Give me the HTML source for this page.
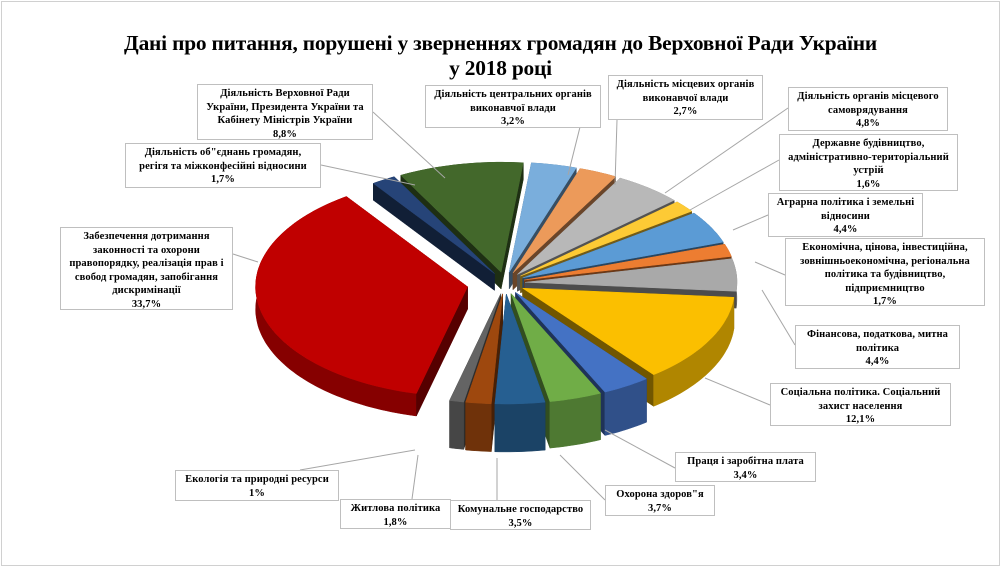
<!DOCTYPE html>
<html><head><meta charset="utf-8"><style>
html,body{margin:0;padding:0;background:#fff;}
#w{position:relative;width:1001px;height:567px;overflow:hidden;font-family:"Liberation Serif","DejaVu Serif",serif;}
.frame{position:absolute;left:1px;top:1px;width:997px;height:563px;border:1px solid #d0d0d0;}
.t{position:absolute;left:0;width:1001px;text-align:center;font-weight:bold;font-size:21.4px;color:#000;letter-spacing:-0.2px;}
.b{position:absolute;border:1px solid #bfbfbf;background:#fff;font-weight:bold;font-size:10.5px;line-height:13.5px;text-align:center;color:#000;box-sizing:border-box;padding-top:2px;white-space:nowrap;letter-spacing:0.1px;}
svg{position:absolute;left:0;top:0;}
</style></head><body><div id="w">
<div class="frame"></div>
<svg id="s" width="1001" height="567"></svg>
<div class="t" style="top:31px">Дані про питання, порушені у зверненнях громадян до Верховної Ради України</div>
<div class="t" style="top:56px">у 2018 році</div>

<div class="b" style="left:197px;top:84px;width:176px;height:56px">Діяльність Верховної Ради<br>України, Президента України та<br>Кабінету Міністрів України<br>8,8%</div>
<div class="b" style="left:125px;top:143px;width:196px;height:45px">Діяльність об"єднань громадян,<br>регігя та міжконфесійні відносини<br>1,7%</div>
<div class="b" style="left:60px;top:227px;width:173px;height:83px">Забезпечення дотримання<br>законності та охорони<br>правопорядку, реалізація прав і<br>свобод громадян, запобігання<br>дискримінації<br>33,7%</div>
<div class="b" style="left:425px;top:85px;width:176px;height:43px">Діяльність центральних органів<br>виконавчої влади<br>3,2%</div>
<div class="b" style="left:608px;top:75px;width:155px;height:45px">Діяльність місцевих органів<br>виконавчої влади<br>2,7%</div>
<div class="b" style="left:788px;top:87px;width:160px;height:44px">Діяльність органів місцевого<br>самоврядування<br>4,8%</div>
<div class="b" style="left:779px;top:134px;width:179px;height:57px">Державне будівництво,<br>адміністративно-територіальний<br>устрій<br>1,6%</div>
<div class="b" style="left:768px;top:193px;width:155px;height:44px">Аграрна політика і земельні<br>відносини<br>4,4%</div>
<div class="b" style="left:785px;top:238px;width:200px;height:68px">Економічна, цінова, інвестиційна,<br>зовнішньоекономічна, регіональна<br>політика та будівництво,<br>підприємництво<br>1,7%</div>
<div class="b" style="left:795px;top:325px;width:165px;height:44px">Фінансова, податкова, митна<br>політика<br>4,4%</div>
<div class="b" style="left:770px;top:383px;width:181px;height:43px">Соціальна політика. Соціальний<br>захист населення<br>12,1%</div>
<div class="b" style="left:675px;top:452px;width:141px;height:30px">Праця і заробітна плата<br>3,4%</div>
<div class="b" style="left:605px;top:485px;width:110px;height:31px">Охорона здоров"я<br>3,7%</div>
<div class="b" style="left:450px;top:500px;width:141px;height:30px">Комунальне господарство<br>3,5%</div>
<div class="b" style="left:340px;top:499px;width:111px;height:30px">Житлова політика<br>1,8%</div>
<div class="b" style="left:175px;top:470px;width:164px;height:31px">Екологія та природні ресурси<br>1%</div>

<script>
(function(){
var S=document.getElementById('s');var NS='http://www.w3.org/2000/svg';
function el(t,a){var e=document.createElementNS(NS,t);for(var k in a)e.setAttribute(k,a[k]);S.appendChild(e);return e;}
var L=[[373,112,445,178],[321,165,415,185],[233,254,258,262],[580,127,568,175],[617,120,615,185],[788,108,665,193],[779,160,690,210],[768,215,733,230],[785,275,755,262],[795,345,762,290],[770,405,705,378],[675,468,605,430],[605,500,560,455],[497,500,497,458],[412,499,418,455],[300,470,415,450]];
var data=[[3.2,'#7aaedc'],[2.7,'#ec9a5a'],[4.8,'#b8b8b8'],[1.6,'#fdca35'],[4.4,'#5b9bd5'],[1.7,'#ed7d31'],[4.4,'#a9a9a9'],[12.1,'#fbbf00'],[3.4,'#4472c4'],[3.7,'#70ad47'],[3.5,'#265f91'],[1.8,'#9e480e'],[1.0,'#646464'],[33.7,'#c00000'],[1.7,'#264478'],[8.8,'#43682b']];
var tot=0;data.forEach(function(d){tot+=d[0];});
var cx=505,cy=283,rx=212,ry=110,dep=48,off=6*Math.PI/180;
function dk(c,f){var r=parseInt(c.substr(1,2),16),g=parseInt(c.substr(3,2),16),b=parseInt(c.substr(5,2),16);return 'rgb('+Math.round(r*f)+','+Math.round(g*f)+','+Math.round(b*f)+')';}
var sl=[],a=off;
data.forEach(function(d,i){var s=a,e=a+d[0]/tot*2*Math.PI;a=e;var m=(s+e)/2;var ex=(i==13)?38:20;
 var ox=cx+ex*Math.sin(m),oy=cy-ex*Math.cos(m)*0.55;sl.push({s:s,e:e,m:m,ox:ox,oy:oy,c:d[1]});});
function P(o,t,dy){return [o.ox+rx*Math.sin(t),o.oy-ry*Math.cos(t)+(dy||0)];}
var faces=[];
sl.forEach(function(o){
 var d=dep*(0.35+0.65*Math.max(0,-Math.cos(o.m)));
 var arc=[],arcb=[],n=Math.max(4,Math.ceil((o.e-o.s)*40));
 for(var k=0;k<=n;k++){var t=o.s+(o.e-o.s)*k/n;arc.push(P(o,t));arcb.push(P(o,t,d));}
 var C=[o.ox,o.oy],Cb=[o.ox,o.oy+d];
 var f1=[C,arc[0],arcb[0],Cb],f2=[C,arc[n],arcb[n],Cb];
 var wall=arc.concat(arcb.slice().reverse());
 function my(p){var s=0;p.forEach(function(q){s+=q[1];});return s/p.length;}
 faces.push({p:f1,c:dk(o.c,0.45),z:my(f1)});
 faces.push({p:f2,c:dk(o.c,0.45),z:my(f2)});
 faces.push({p:wall,c:dk(o.c,0.7),z:my(wall)+(Math.cos(o.m)<0?30:-30)});
 o.top=[C].concat(arc);
});
faces.sort(function(a,b){return a.z-b.z;});
function ps(p){return p.map(function(q){return q[0].toFixed(1)+','+q[1].toFixed(1);}).join(' ');}
faces.forEach(function(f){el('polygon',{points:ps(f.p),fill:f.c,stroke:f.c,'stroke-width':0.5});});
sl.forEach(function(o){el('polygon',{points:ps(o.top),fill:o.c,stroke:o.c,'stroke-width':0.5});});
L.forEach(function(l){el('line',{x1:l[0],y1:l[1],x2:l[2],y2:l[3],stroke:'#a6a6a6','stroke-width':1});});
})();
</script>
</div></body></html>
